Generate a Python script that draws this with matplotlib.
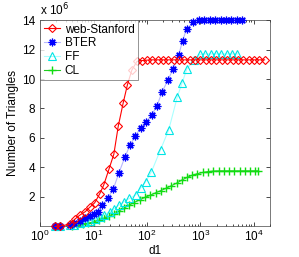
import matplotlib
matplotlib.use('Agg')
import matplotlib.pyplot as plt
from matplotlib.ticker import LogLocator, NullFormatter

# ===== DADOS (valores em milhoes) =====
d_stanford = [1.9, 2.4, 3.6, 4.5, 5.6, 7.0, 8.5, 10.5, 13, 15.5, 19.5, 24, 29, 36, 43, 52, 65,
              80, 100, 126, 158, 200, 251, 316, 398, 501, 631, 794, 1000, 1259, 1585, 1995,
              2512, 3162, 3981, 5012, 6310, 7943, 10000, 12589, 15849]
tri_stanford = [0.0, 0.03, 0.15, 0.5, 0.78, 1.0, 1.3, 1.6, 2.2, 2.8, 3.9, 4.9, 6.8, 8.4, 9.6, 10.6, 11.2,
                11.25, 11.28, 11.3, 11.3, 11.3, 11.3, 11.3, 11.3, 11.3, 11.3, 11.3, 11.3, 11.3, 11.3, 11.3,
                11.3, 11.3, 11.3, 11.3, 11.3, 11.3, 11.3, 11.3, 11.3]

d_bter = [1.9, 2.4, 3.6, 4.4, 5.5, 7, 8.5, 10, 12, 14.5, 18.5, 23.5, 30, 38.6, 48, 60, 76, 96,
          122, 153, 190, 245, 310, 390, 464, 550, 740, 940, 1190, 1500, 1900, 2400, 3000,
          3800, 4800, 6000]
tri_bter = [0.0, 0.02, 0.1, 0.2, 0.4, 0.55, 0.7, 0.85, 1.0, 1.45, 1.9, 2.55, 3.65, 4.7, 5.5, 6.1, 6.7, 7.1,
            7.55, 8.15, 9.1, 9.9, 10.7, 11.6, 12.6, 13.4, 13.85, 14.0, 14.02, 14.03, 14.03, 14.03, 14.03,
            14.03, 14.03, 14.03]

d_ff = [1.9, 2.4, 3.6, 4.4, 5.5, 7, 8.5, 10.5, 13, 16, 20, 24.5, 30, 37.6, 47, 61.6, 76, 94.5,
        121, 179, 255, 370, 450, 560, 770, 980, 1230, 1550, 1950, 2450, 3100, 3900, 4900]
tri_ff = [0.0, 0.02, 0.08, 0.12, 0.2, 0.3, 0.4, 0.5, 0.65, 0.8, 1.0, 1.2, 1.45, 1.68, 1.9, 2.14, 2.6, 3.04,
          3.7, 5.2, 6.55, 8.8, 9.7, 10.7, 11.3, 11.67, 11.7, 11.7, 11.7, 11.7, 11.7, 11.7, 11.7]

d_cl = [1.9, 2.4, 4, 5, 6.3, 8, 10, 12.5, 15.5, 19.8, 24.5, 30, 37.6, 46.4, 57, 73, 91.5, 116,
        145, 179, 225, 285, 365, 450, 560, 700, 880, 1100, 1400, 1750, 2200, 2750, 3450, 4300,
        5400, 6800, 8500, 10500, 12000]
tri_cl = [0.0, 0.01, 0.05, 0.1, 0.15, 0.22, 0.3, 0.42, 0.55, 0.68, 0.85, 1.05, 1.25, 1.45, 1.62, 1.8, 1.97, 2.12,
          2.28, 2.42, 2.58, 2.76, 2.95, 3.15, 3.32, 3.47, 3.58, 3.66, 3.72, 3.76, 3.77, 3.77, 3.77, 3.77,
          3.77, 3.77, 3.77, 3.77, 3.77]

plt.rcParams['font.family'] = ['Liberation Sans', 'DejaVu Sans']
plt.rcParams['font.size'] = 8.5

fig = plt.figure(figsize=(2.99, 2.57), dpi=100)
ax = fig.add_axes([0.134, 0.119, 0.769, 0.803])

ax.plot(d_stanford, tri_stanford, color='#ff0000', lw=0.8, marker='D', ms=4.2,
        mfc='none', mec='#ff0000', mew=0.8, label='web-Stanford', clip_on=False, zorder=5)
ax.plot(d_bter, tri_bter, color='#b8b8ff', lw=0.8, marker=(8, 2, 0), ms=5.5,
        mfc='#0000ff', mec='#0000ff', mew=0.9, label='BTER', clip_on=False, zorder=4)
ax.plot(d_ff, tri_ff, color='#aaffff', lw=0.8, marker='^', ms=5.5,
        mfc='none', mec='#00e5e5', mew=0.8, label='FF', clip_on=False, zorder=3)
ax.plot(d_cl, tri_cl, color='#22cc22', lw=0.8, marker='+', ms=6,
        mec='#11dd11', mew=1.0, label='CL', clip_on=False, zorder=2)

ax.set_xscale('log')
ax.set_xlim(1, 2e4)
ax.set_ylim(0, 14)
ax.set_yticks([2, 4, 6, 8, 10, 12, 14])
ax.set_xticks([1, 10, 100, 1000, 10000])
ax.xaxis.set_minor_locator(LogLocator(base=10, subs=range(2, 10), numticks=20))
ax.xaxis.set_minor_formatter(NullFormatter())
ax.tick_params(which='both', direction='in', top=True, right=True, width=0.5, labelsize=8.5)
ax.tick_params(which='major', length=3)
ax.tick_params(which='minor', length=1.5)
ax.tick_params(axis='x', which='major', pad=1.5)
for s in ax.spines.values():
    s.set_linewidth(0.5)
    s.set_color('#444444')

ax.set_xlabel('d1', fontsize=8.5)
ax.xaxis.set_label_coords(0.5, -0.09)
ax.set_ylabel('Number of Triangles', labelpad=2)
ax.text(0.0, 1.01, 'x 10$^6$', transform=ax.transAxes, fontsize=8.5, ha='left', va='bottom')

leg = ax.legend(loc='upper left', frameon=True, fancybox=False, handlelength=1.4,
                borderaxespad=0.0, borderpad=0.3, labelspacing=0.15, handletextpad=0.4,
                fontsize=8.5)
leg.get_frame().set_edgecolor('#444444')
leg.get_frame().set_linewidth(0.5)
leg.set_zorder(10)

fig.savefig('out.png', dpi=100)
plt.close(fig)
